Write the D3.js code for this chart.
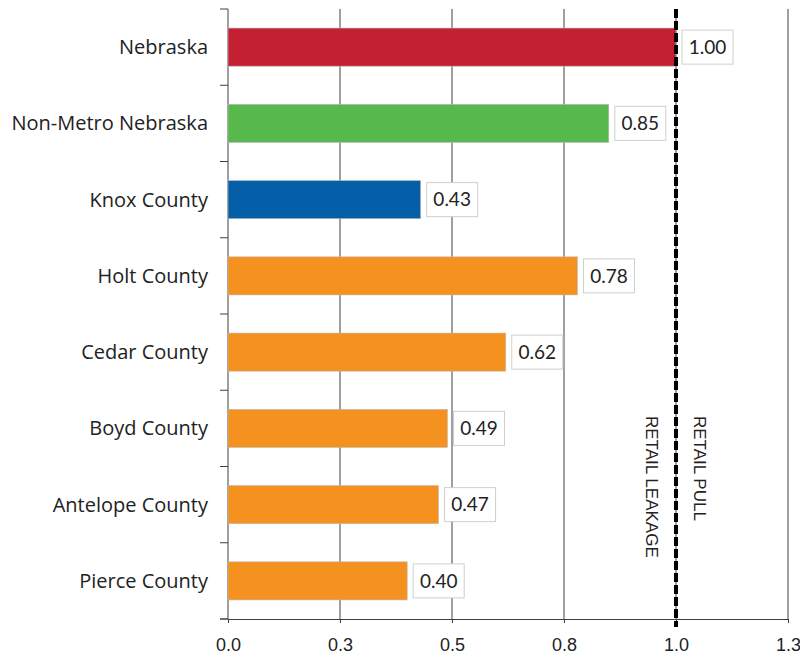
<!DOCTYPE html>
<html>
<head>
<meta charset="utf-8">
<script src="https://cdn.jsdelivr.net/npm/d3@7"></script>
<style>
  body { margin: 0; background: #fff; }
  svg { display: block; }
</style>
</head>
<body>
<svg id="chart" width="800" height="659"></svg>
<script>
var categories = ['Nebraska', 'Non-Metro Nebraska', 'Knox County', 'Holt County',
  'Cedar County', 'Boyd County', 'Antelope County', 'Pierce County'];
var pullFactor = [1.00, 0.85, 0.43, 0.78, 0.62, 0.49, 0.47, 0.40];
var barColors = ['#c42034', '#57b84b', '#045ea8', '#f5911f', '#f5911f', '#f5911f', '#f5911f', '#f5911f'];
var tickValues = [0, 0.25, 0.5, 0.75, 1.0, 1.25];
var tickLabels = ['0.0', '0.3', '0.5', '0.8', '1.0', '1.3'];
var baseline = 1.0;

var PLOT_LEFT = 228, PLOT_RIGHT = 788, PLOT_TOP = 9, PLOT_BOTTOM = 619;

var svg = d3.select('#chart');

var x = d3.scaleLinear().domain([0, 1.25]).range([PLOT_LEFT, PLOT_RIGHT]);
var y = d3.scaleBand().domain(categories).range([PLOT_TOP, PLOT_BOTTOM])
    .paddingInner(0.5).paddingOuter(0.25);

// vertical gridlines
svg.append('g').selectAll('line').data(tickValues.slice(1)).enter().append('line')
    .attr('x1', d => x(d)).attr('x2', d => x(d))
    .attr('y1', PLOT_TOP).attr('y2', PLOT_BOTTOM)
    .attr('stroke', '#404040').attr('stroke-width', 1);

// x axis
var xAxis = d3.axisBottom(x).tickValues(tickValues)
    .tickFormat((d, i) => tickLabels[i]).tickSize(4).tickSizeOuter(0);
var gx = svg.append('g').attr('transform', 'translate(0,' + PLOT_BOTTOM + ')').call(xAxis);
gx.select('.domain').attr('stroke', '#404040');
gx.selectAll('.tick line').attr('stroke', '#404040');
gx.selectAll('.tick text').attr('y', 19).attr('dy', '0.71em')
    .style('font-family', '"Liberation Sans", Arial, sans-serif')
    .style('font-size', '18px').attr('fill', '#222');
gx.append('line').attr('x1', PLOT_LEFT - 8).attr('x2', PLOT_LEFT)
    .attr('y1', 0).attr('y2', 0).attr('stroke', '#404040');

// y axis with ticks between categories
var gy = svg.append('g');
gy.append('line').attr('x1', PLOT_LEFT).attr('x2', PLOT_LEFT)
    .attr('y1', PLOT_TOP).attr('y2', PLOT_BOTTOM).attr('stroke', '#404040');
var bounds = categories.map(c => y(c) - y.step() * y.paddingInner() / 2);
bounds.push(PLOT_BOTTOM);
gy.selectAll('line.tk').data(bounds).enter().append('line').attr('class', 'tk')
    .attr('x1', PLOT_LEFT - 8).attr('x2', PLOT_LEFT)
    .attr('y1', d => d).attr('y2', d => d).attr('stroke', '#404040');
gy.selectAll('text').data(categories).enter().append('text')
    .attr('x', PLOT_LEFT - 20).attr('y', d => y(d) + y.bandwidth() / 2)
    .attr('dy', '0.35em').attr('text-anchor', 'end')
    .style('font-family', '"Open Sans", sans-serif').style('font-size', '20px')
    .attr('fill', '#222').text(d => d);

// bars
svg.append('g').selectAll('rect').data(categories).enter().append('rect')
    .attr('x', x(0)).attr('y', d => y(d))
    .attr('width', (d, i) => x(pullFactor[i]) - x(0))
    .attr('height', y.bandwidth())
    .attr('fill', (d, i) => barColors[i])
    .attr('stroke', '#bbb').attr('stroke-width', 0.6);

// baseline dashed line
svg.append('line').attr('x1', x(baseline)).attr('x2', x(baseline))
    .attr('y1', PLOT_TOP).attr('y2', PLOT_BOTTOM + 8)
    .attr('stroke', '#000').attr('stroke-width', 4)
    .attr('stroke-dasharray', '9,3');

// data labels in boxes
var lbl = svg.append('g').selectAll('g').data(categories).enter().append('g')
    .attr('transform', (d, i) => 'translate(' + (x(pullFactor[i]) + 6) + ',' + (y(d) + y.bandwidth() / 2) + ')');
lbl.append('rect').attr('x', 0).attr('y', -17).attr('width', 51).attr('height', 34)
    .attr('fill', '#fff').attr('stroke', '#cfcfcf').attr('stroke-width', 1);
lbl.append('text').attr('x', 25.5).attr('y', 0).attr('dy', '0.36em')
    .attr('text-anchor', 'middle')
    .style('font-family', 'Lato, "Open Sans", sans-serif').style('font-size', '19px')
    .attr('fill', '#222').text((d, i) => pullFactor[i].toFixed(2));

// annotations
var notes = [
  { text: 'RETAIL LEAKAGE', dx: -24 },
  { text: 'RETAIL PULL', dx: 24 }
];
svg.append('g').selectAll('text').data(notes).enter().append('text')
    .attr('transform', d => 'translate(' + (x(baseline) + d.dx) + ',416) rotate(90)')
    .attr('dy', '0.35em')
    .style('font-family', '"Liberation Sans", Arial, sans-serif').style('font-size', '17px')
    .attr('fill', '#222').text(d => d.text);
</script>
</body>
</html>
